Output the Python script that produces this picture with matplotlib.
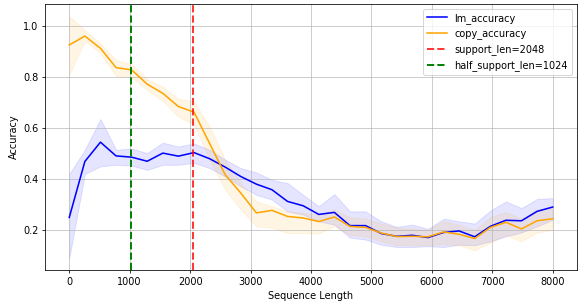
import numpy as np
import matplotlib
matplotlib.use('Agg')
import matplotlib.pyplot as plt

# sequence lengths (32 evaluation points from 0 to 8000)
seq_len = np.linspace(0, 8000, 32)

lm_acc = [0.249, 0.469, 0.545, 0.491, 0.486, 0.470, 0.502, 0.490,
          0.504, 0.480, 0.447, 0.410, 0.380, 0.358, 0.312, 0.295,
          0.261, 0.269, 0.217, 0.217, 0.186, 0.175, 0.179, 0.170,
          0.190, 0.196, 0.173, 0.214, 0.238, 0.236, 0.273, 0.290]
lm_upper = [0.42, 0.515, 0.636, 0.515, 0.520, 0.502, 0.543, 0.528,
            0.540, 0.515, 0.476, 0.443, 0.426, 0.397, 0.384, 0.338,
            0.293, 0.341, 0.273, 0.273, 0.234, 0.212, 0.221, 0.204,
            0.244, 0.234, 0.225, 0.276, 0.312, 0.286, 0.322, 0.325]
lm_lower = [0.09, 0.420, 0.450, 0.456, 0.453, 0.436, 0.456, 0.456,
            0.464, 0.443, 0.410, 0.371, 0.338, 0.319, 0.273, 0.260,
            0.234, 0.221, 0.170, 0.162, 0.142, 0.133, 0.133, 0.136,
            0.133, 0.142, 0.140, 0.155, 0.175, 0.190, 0.214, 0.240]

copy_acc = [0.927, 0.962, 0.914, 0.838, 0.829, 0.773, 0.737, 0.685,
            0.663, 0.540, 0.417, 0.345, 0.267, 0.277, 0.253, 0.247,
            0.233, 0.251, 0.214, 0.210, 0.188, 0.174, 0.175, 0.173,
            0.192, 0.183, 0.166, 0.210, 0.230, 0.204, 0.236, 0.244]
copy_upper = [1.04, 0.985, 0.933, 0.868, 0.851, 0.792, 0.763, 0.715,
              0.706, 0.606, 0.476, 0.385, 0.312, 0.293, 0.273, 0.267,
              0.260, 0.280, 0.250, 0.245, 0.225, 0.210, 0.205, 0.200,
              0.235, 0.220, 0.200, 0.250, 0.270, 0.245, 0.280, 0.285]
copy_lower = [0.81, 0.944, 0.894, 0.805, 0.800, 0.750, 0.707, 0.645,
              0.615, 0.476, 0.358, 0.280, 0.214, 0.208, 0.188, 0.188,
              0.186, 0.215, 0.180, 0.175, 0.155, 0.140, 0.140, 0.140,
              0.145, 0.140, 0.120, 0.150, 0.180, 0.155, 0.190, 0.200]

support_len = 2048
half_support_len = 1024

dpi = 70
fig = plt.figure(figsize=(578 / dpi, 307 / dpi), dpi=dpi)
ax = fig.add_axes([0.078, 0.1205, 0.92, 0.866])

ax.plot(seq_len, lm_acc, color='blue', linewidth=1.6, label='lm_accuracy')
ax.fill_between(seq_len, lm_lower, lm_upper, color='blue', alpha=0.1)
ax.plot(seq_len, copy_acc, color='orange', linewidth=1.6, label='copy_accuracy')
ax.fill_between(seq_len, copy_lower, copy_upper, color='orange', alpha=0.1)

ax.axvline(support_len, color='red', linestyle='--', linewidth=2, alpha=0.8,
           label=f'support_len={support_len}')
ax.axvline(half_support_len, color='green', linestyle='--', linewidth=2,
           label=f'half_support_len={half_support_len}')

ax.set_xlabel('Sequence Length')
ax.set_ylabel('Accuracy')
ax.grid(True, alpha=0.8)
ax.legend(loc='upper right')

fig.savefig('out.png', dpi=dpi)
